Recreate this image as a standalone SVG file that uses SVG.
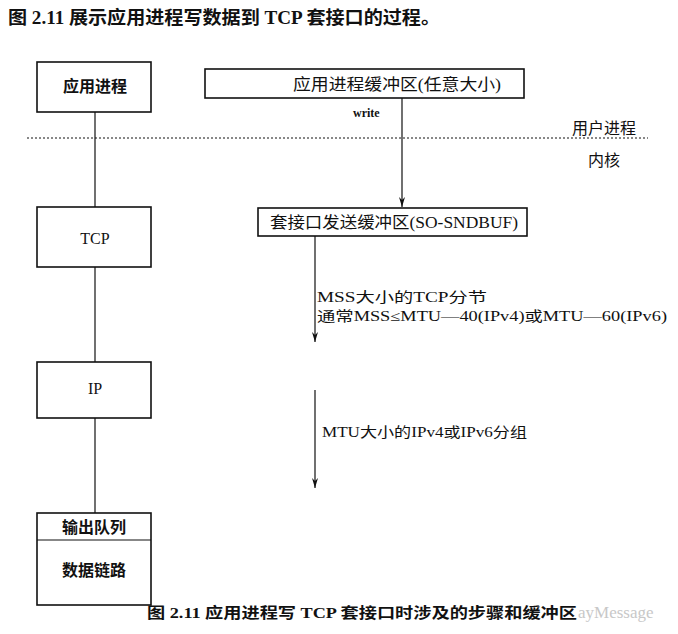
<svg xmlns="http://www.w3.org/2000/svg" width="678" height="634" viewBox="0 0 678 634">
<defs>
<marker id="arr" viewBox="0 0 10 6" refX="10" refY="3" markerWidth="10" markerHeight="6" markerUnits="userSpaceOnUse" orient="auto">
<path d="M0,0 L10,3 L0,6 L3,3 Z" fill="#111"/>
</marker>
<style>
.t{font-family:"Liberation Serif","Noto Sans CJK SC",serif;fill:#111}
.box{fill:#fff;stroke:#111;stroke-width:1.6}
.ln{stroke:#111;stroke-width:1.2;fill:none}
.lbl{font-size:16px;font-weight:700}
</style>
</defs>
<rect width="678" height="634" fill="#fff"/>
<text class="t" x="8" y="24" font-size="18" font-weight="700" textLength="432" lengthAdjust="spacingAndGlyphs">图 2.11 展示应用进程写数据到 TCP 套接口的过程。</text>

<g id="connectors">
<line class="ln" x1="95" y1="112" x2="95" y2="207"/>
<line class="ln" x1="95" y1="267" x2="95" y2="362"/>
<line class="ln" x1="95" y1="418" x2="95" y2="513"/>
<line class="ln" x1="402" y1="98" x2="402" y2="207" marker-end="url(#arr)"/>
<line class="ln" x1="315" y1="236" x2="315" y2="342" marker-end="url(#arr)"/>
<line class="ln" x1="315" y1="390" x2="315" y2="488" marker-end="url(#arr)"/>
<line x1="27" y1="138" x2="648" y2="138" stroke="#111" stroke-width="1" stroke-dasharray="2 2"/>
<text class="t" x="353" y="117" font-size="12" font-weight="700">write</text>
<text class="t" x="317" y="302" font-size="14" textLength="170" lengthAdjust="spacingAndGlyphs">MSS大小的TCP分节</text>
<text class="t" x="317" y="321" font-size="14" textLength="350" lengthAdjust="spacingAndGlyphs">通常MSS≤MTU—40(IPv4)或MTU—60(IPv6)</text>
<text class="t" x="322" y="437" font-size="14" textLength="205" lengthAdjust="spacingAndGlyphs">MTU大小的IPv4或IPv6分组</text>
</g>

<g id="app">
<rect class="box" x="37" y="62" width="114" height="50"/>
<text class="t lbl" x="95" y="92" text-anchor="middle">应用进程</text>
</g>
<g id="appbuf">
<rect class="box" x="205" y="69" width="319" height="29"/>
<text class="t" x="293" y="90" font-size="16" textLength="208" lengthAdjust="spacingAndGlyphs">应用进程缓冲区(任意大小)</text>
</g>
<g id="userlabel">
<text class="t" x="572" y="134" font-size="16">用户进程</text>
<text class="t" x="588" y="166" font-size="16">内核</text>
</g>
<g id="tcp">
<rect class="box" x="37" y="207" width="114" height="60"/>
<text class="t" x="95" y="244" font-size="16" text-anchor="middle">TCP</text>
</g>
<g id="sockbuf">
<rect class="box" x="258" y="208" width="269" height="28"/>
<text class="t" x="270" y="228" font-size="16" textLength="248" lengthAdjust="spacingAndGlyphs">套接口发送缓冲区(SO-SNDBUF)</text>
</g>
<g id="ip">
<rect class="box" x="37" y="362" width="114" height="56"/>
<text class="t" x="95" y="394" font-size="16" text-anchor="middle">IP</text>
</g>
<g id="datalink">
<rect class="box" x="37" y="513" width="114" height="92"/>
<line class="ln" x1="37" y1="540" x2="151" y2="540"/>
<text class="t lbl" x="94" y="533" text-anchor="middle">输出队列</text>
<text class="t lbl" x="94" y="576" text-anchor="middle">数据链路</text>
</g>
<text class="t" x="147" y="618" font-size="15" font-weight="700" textLength="430" lengthAdjust="spacingAndGlyphs">图 2.11   应用进程写 TCP 套接口时涉及的步骤和缓冲区</text>
<text class="t" x="578" y="618" font-size="17" style="fill:#c8c8c8">ayMessage</text>
</svg>
